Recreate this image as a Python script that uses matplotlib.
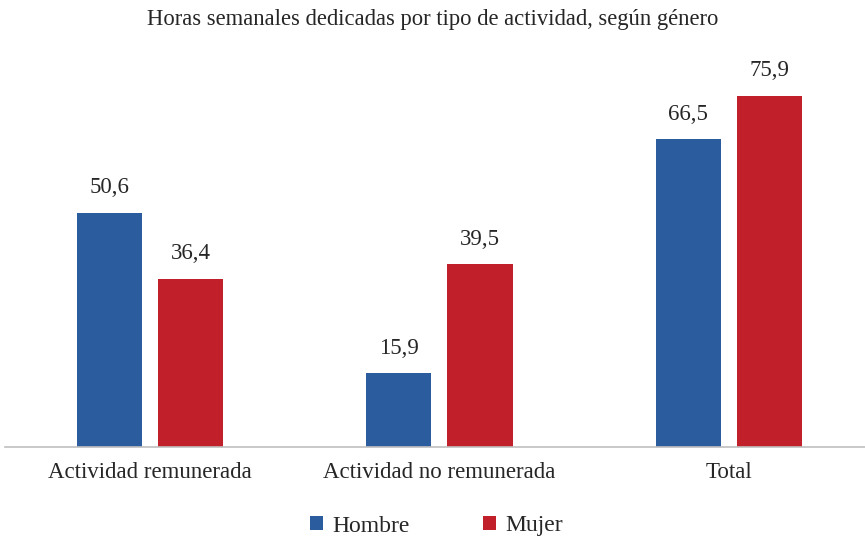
import matplotlib.pyplot as plt
import numpy as np

categorias = ["Actividad remunerada", "Actividad no remunerada", "Total"]
hombre = [50.6, 15.9, 66.5]
mujer = [36.4, 39.5, 75.9]

azul = "#2B5C9E"
rojo = "#C1202A"
texto = "#262626"

plt.rcParams["font.family"] = ["Liberation Serif", "DejaVu Serif"]

fig = plt.figure(figsize=(8.65, 5.40), dpi=100)
ax = fig.add_axes([5 / 865, (540 - 447) / 540, 860 / 865, (447 - 77) / 540])

x = np.arange(len(categorias))
ancho = 0.225
desp = 0.1405

b1 = ax.bar(x - desp, hombre, ancho, color=azul, label="Hombre")
b2 = ax.bar(x + desp, mujer, ancho, color=rojo, label="Mujer")

for barras in (b1, b2):
    for b in barras:
        ax.text(b.get_x() + b.get_width() / 2, b.get_height() + 3.2,
                f"{b.get_height():.1f}".replace(".", ","),
                ha="center", va="bottom", fontsize=16.5, color=texto)

ax.set_xlim(-0.5, 2.47)
ax.set_ylim(0, 80)
ax.set_yticks([])
ax.set_xticks(x)
ax.set_xticklabels(categorias, fontsize=16.5, color=texto)
ax.tick_params(axis="x", length=0, pad=11)
for s in ("top", "right", "left"):
    ax.spines[s].set_visible(False)
ax.spines["bottom"].set_color("#BFBFBF")
ax.spines["bottom"].set_linewidth(1.2)

fig.text(0.5, 1 - 20 / 540, "Horas semanales dedicadas por tipo de actividad, según género",
         ha="center", va="center", fontsize=16.3, color=texto)

fig.legend(loc="center", bbox_to_anchor=(0.5 + 4 / 865, 1 - 526 / 540), ncol=2,
           frameon=False, fontsize=17, handlelength=0.55, handleheight=0.55,
           handletextpad=0.38, columnspacing=3.1, labelcolor=texto)

fig.savefig("out.png", dpi=100)
